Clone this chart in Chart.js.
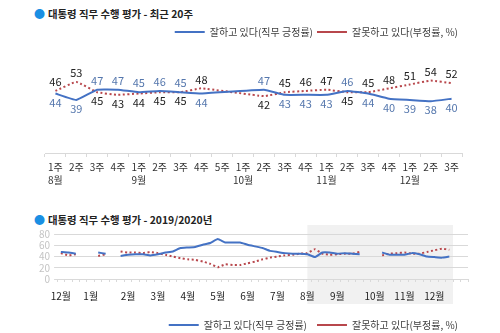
<!DOCTYPE html>
<html>
<head>
<meta charset="utf-8">
<script src="https://cdn.jsdelivr.net/npm/chart.js@4"></script>
<style>
  body { margin: 0; background: #fff; font-family: "Noto Sans CJK KR", "Noto Sans", sans-serif; }
  #page { position: relative; width: 500px; height: 333px; overflow: hidden; }
  .title { position: absolute; left: 34px; font-size: 10.4px; font-weight: bold; color: #222; white-space: nowrap; }
  .title span { color: #1a8fe3; font-size: 11px; margin-right: 3px; }
  .box { position: absolute; left: 0; width: 500px; }
</style>
</head>
<body>
<div id="page">
  <div class="title" style="top:5px"><span>●</span>대통령 직무 수행 평가 - 최근 20주</div>
  <div class="box" style="top:0;height:197px"><canvas id="recentChart"></canvas></div>
  <div class="title" style="top:211px"><span>●</span>대통령 직무 수행 평가 - 2019/2020년</div>
  <div class="box" style="top:222px;height:124px"><canvas id="yearChart"></canvas></div>
</div>
<script>
// 최근 20주
const recentWeeks = ['1주','2주','3주','4주','1주','2주','3주','4주','5주','1주','2주','3주','4주','1주','2주','3주','4주','1주','2주','3주'];
const recentMonths = ['8월','','','','9월','','','','','10월','','','','11월','','','','12월','',''];
const approveRecent = [44,39,47,47,45,46,45,44,null,null,47,43,43,43,46,44,40,39,38,40];
const disapproveRecent = [46,53,45,43,44,45,45,48,null,null,42,45,46,47,45,45,48,51,54,52];

// 2019/2020년 (주간)
const yearMonths = ['12월','','','',
  '1월','','','','',
  '2월','','','',
  '3월','','','',
  '4월','','','',
  '5월','','','',
  '6월','','','',
  '7월','','','',
  '8월','','','',
  '9월','','','','',
  '10월','','','',
  '11월','','','',
  '12월','','','',''];
const approveYear = [48,47,45,null,
  null,47,45,null,41,
  43,44,44,42,
  44,47,49,55,
  56,57,61,64,
  71,65,65,65,
  61,58,55,50,
  48,46,45,45,
  44,39,47,47,
  45,46,45,44,null,
  null,47,43,43,
  43,46,44,40,
  39,38,40,null,null];
const disapproveYear = [46,42,44,null,
  null,41,44,null,49,
  47,47,46,48,
  46,43,40,37,
  35,34,31,27,
  21,26,25,25,
  28,31,35,38,
  40,42,43,45,
  46,53,45,43,
  44,45,45,48,null,
  null,42,45,46,
  47,45,45,48,
  51,54,52,null,null];
const recentFrom = 33;
const recentTo = 52;

const approveName = '잘하고 있다(직무 긍정률)';
const disapproveName = '잘못하고 있다(부정률, %)';
const blue = '#4472c4';
const red = '#b8474c';

Chart.defaults.font.family = '"Noto Sans CJK KR", "Noto Sans", sans-serif';
Chart.defaults.font.size = 10;
Chart.defaults.color = '#333';

const legendOpts = function (pad) {
  return {
    align: 'end',
    labels: {
      usePointStyle: true,
      pointStyle: 'line',
      pointStyleWidth: 30,
      padding: pad,
      color: '#404040',
      font: { size: 10 }
    }
  };
};

const valueLabels = {
  id: 'valueLabels',
  afterDatasetsDraw(chart) {
    const ctx = chart.ctx;
    const m0 = chart.getDatasetMeta(0), m1 = chart.getDatasetMeta(1);
    ctx.save();
    ctx.font = '11px "Noto Sans CJK KR", "Noto Sans", sans-serif';
    ctx.textAlign = 'center';
    ctx.textBaseline = 'middle';
    for (let i = 0; i < recentWeeks.length; i++) {
      const a = approveRecent[i], b = disapproveRecent[i];
      if (a == null || b == null) continue;
      const pa = m0.data[i], pb = m1.data[i];
      const up = a >= b;
      ctx.fillStyle = '#5577ad';
      ctx.fillText(a, pa.x, up ? pa.y - 9 : pa.y + 9);
      ctx.fillStyle = '#222';
      ctx.fillText(b, pb.x, up ? pb.y + 9 : pb.y - 9);
    }
    ctx.restore();
  }
};

new Chart(document.getElementById('recentChart'), {
  type: 'line',
  data: {
    labels: recentWeeks.map((w, i) => recentMonths[i] ? [w, recentMonths[i]] : w),
    datasets: [
      { label: approveName, data: approveRecent, borderColor: blue, backgroundColor: blue, borderWidth: 2, pointRadius: 0, tension: 0.1, spanGaps: true },
      { label: disapproveName, data: disapproveRecent, borderColor: red, backgroundColor: red, borderWidth: 2, borderDash: [2, 2.5], pointRadius: 0, tension: 0.1, spanGaps: true }
    ]
  },
  options: {
    responsive: true,
    maintainAspectRatio: false,
    animation: false,
    layout: { padding: { left: 45, right: 38, top: 23, bottom: 6 } },
    plugins: {
      legend: legendOpts(4),
      tooltip: { enabled: false }
    },
    scales: {
      x: {
        offset: true,
        grid: { drawOnChartArea: false, offset: true, tickLength: 4, color: '#d9d9d9' },
        border: { color: '#d9d9d9' },
        ticks: { autoSkip: false, maxRotation: 0, padding: 4, color: '#333', font: { size: 10, lineHeight: 1.3 } }
      },
      y: { display: false, min: -2, max: 80 }
    }
  },
  plugins: [valueLabels]
});

const recentShade = {
  id: 'recentShade',
  beforeDraw(chart) {
    const x = chart.scales.x, a = chart.chartArea, ctx = chart.ctx;
    const step = x.getPixelForValue(1) - x.getPixelForValue(0);
    const left = x.getPixelForValue(recentFrom);
    const right = x.getPixelForValue(recentTo) + step / 2;
    ctx.save();
    ctx.fillStyle = '#f1f1f1';
    ctx.fillRect(left, a.top - 9, right - left, a.bottom - a.top + 34);
    ctx.restore();
  }
};

new Chart(document.getElementById('yearChart'), {
  type: 'line',
  data: {
    labels: yearMonths,
    datasets: [
      { label: approveName, data: approveYear, borderColor: blue, backgroundColor: blue, borderWidth: 2, pointRadius: 0, tension: 0.1, spanGaps: false },
      { label: disapproveName, data: disapproveYear, borderColor: red, backgroundColor: red, borderWidth: 2, borderDash: [2, 2.5], pointRadius: 0, tension: 0.1, spanGaps: false }
    ]
  },
  options: {
    responsive: true,
    maintainAspectRatio: false,
    animation: false,
    layout: { padding: { left: 35, right: 32, top: 12, bottom: 6 } },
    plugins: {
      legend: Object.assign({ position: 'bottom' }, legendOpts(10)),
      tooltip: { enabled: false }
    },
    scales: {
      x: {
        offset: true,
        grid: { drawOnChartArea: false, offset: true, tickLength: 3, color: '#d9d9d9' },
        border: { color: '#d9d9d9' },
        ticks: { autoSkip: false, maxRotation: 0, padding: 8, color: '#222', font: { size: 10 } }
      },
      y: {
        min: 0, max: 80,
        grid: { color: '#d9d9d9', tickLength: 3 },
        border: { display: false },
        ticks: { stepSize: 20, autoSkip: false, padding: 4, color: '#c4c4c4', font: { size: 10 } }
      }
    }
  },
  plugins: [recentShade]
});
</script>
</body>
</html>
